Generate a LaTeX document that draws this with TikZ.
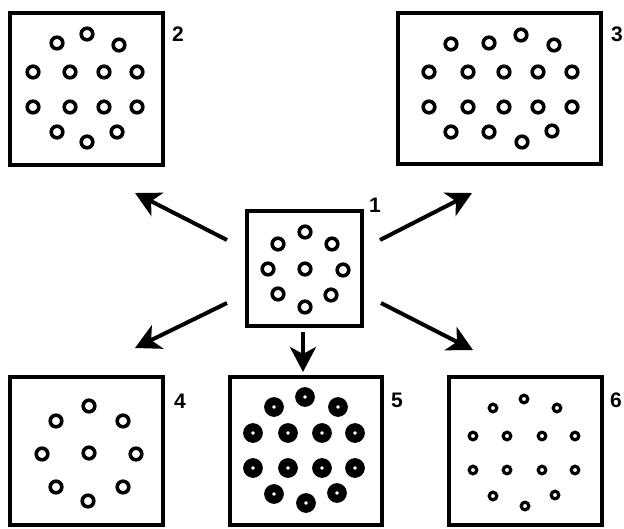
\documentclass[tikz,border=0pt]{standalone}
\usepackage{fontspec}
\setmainfont{Liberation Sans}
\usetikzlibrary{arrows.meta}
\begin{document}
\begin{tikzpicture}[x=1pt,y=-1pt,
  panel/.style={draw, line width=4pt, inner sep=0pt, outer sep=0pt},
  lbl/.style={font=\fontsize{21}{22}\selectfont\bfseries, inner sep=0pt},
  ring/.style={line width=3.6pt},
  fatring/.style={line width=8pt},
  thinring/.style={line width=3.2pt},
  flow/.style={line width=4pt, -{Stealth[length=25pt,width=26pt,inset=7pt]}}
]
\useasboundingbox (0,0) rectangle (624,528);
% panels
\node[panel, minimum width=153pt, minimum height=152pt] (b2) at (86.5,89) {};
\node[panel, minimum width=203pt, minimum height=151pt] (b3) at (499.5,88.5) {};
\node[panel, minimum width=115pt, minimum height=115pt] (b1) at (304.5,268.5) {};
\node[panel, minimum width=153pt, minimum height=148pt] (b4) at (86.5,451) {};
\node[panel, minimum width=152pt, minimum height=148pt] (b5) at (306,451) {};
\node[panel, minimum width=153pt, minimum height=148pt] (b6) at (525.5,451) {};
% labels
\node[lbl] (l1) at (375,205) {1};
\node[lbl] (l2) at (178,34) {2};
\node[lbl] (l3) at (617,34) {3};
\node[lbl] (l4) at (180,401) {4};
\node[lbl] (l5) at (397,400) {5};
\node[lbl] (l6) at (616,400) {6};
% rings panel 1
\foreach \p in {(305,232),(278,244),(332,244),(268,269),(305,269),(343,270),(278,294),(331,295),(305,307)}
  \draw[ring] \p circle[radius=5.8pt];
% rings panel 2
\foreach \p in {(57,43),(87,34),(119,45),(33,72),(70,72),(104,72),(137,72),(33,107),(70,107),(104,107),(137,107),(57,132),(87,142),(117,132)}
  \draw[ring] \p circle[radius=5.8pt];
% rings panel 3
\foreach \p in {(451,44),(489,43),(521,35),(554,45),(429,72),(468,72),(504,72),(538,72),(572,72),(429,107),(468,107),(504,107),(538,107),(572,107),(451,132),(489,132),(522,142),(552,131)}
  \draw[ring] \p circle[radius=5.8pt];
% rings panel 4
\foreach \p in {(89,406),(56,421),(123,421),(42,454),(89,453),(136,454),(56,487),(123,487),(88,501)}
  \draw[ring] \p circle[radius=5.8pt];
% rings panel 5
\foreach \p in {(305,397),(274,407),(338,407),(253,433),(288,433),(322,433),(355,433),(253,468),(288,468),(322,468),(355,468),(274,494),(306,503),(337,493)}
  \draw[fatring] \p circle[radius=5.8pt];
% rings panel 6
\foreach \p in {(524,399),(493,408),(557,408),(473,436),(507,436),(542,436),(575,436),(473,470),(507,470),(542,470),(575,470),(493,496),(525,506),(555,495)}
  \draw[thinring] \p circle[radius=3.8pt];
% arrows
\coordinate (s2) at (227,240); \coordinate (t2) at (135,193);
\coordinate (s3) at (380,240); \coordinate (t3) at (472,193);
\coordinate (s4) at (227,303); \coordinate (t4) at (135,348);
\coordinate (s6) at (381,303); \coordinate (t6) at (473,350);
\coordinate (s5) at (303,332); \coordinate (t5) at (303,372);
\draw[flow] (s2) -- (t2);
\draw[flow] (s3) -- (t3);
\draw[flow] (s4) -- (t4);
\draw[flow] (s6) -- (t6);
\draw[flow] (s5) -- (t5);
\end{tikzpicture}
\end{document}
